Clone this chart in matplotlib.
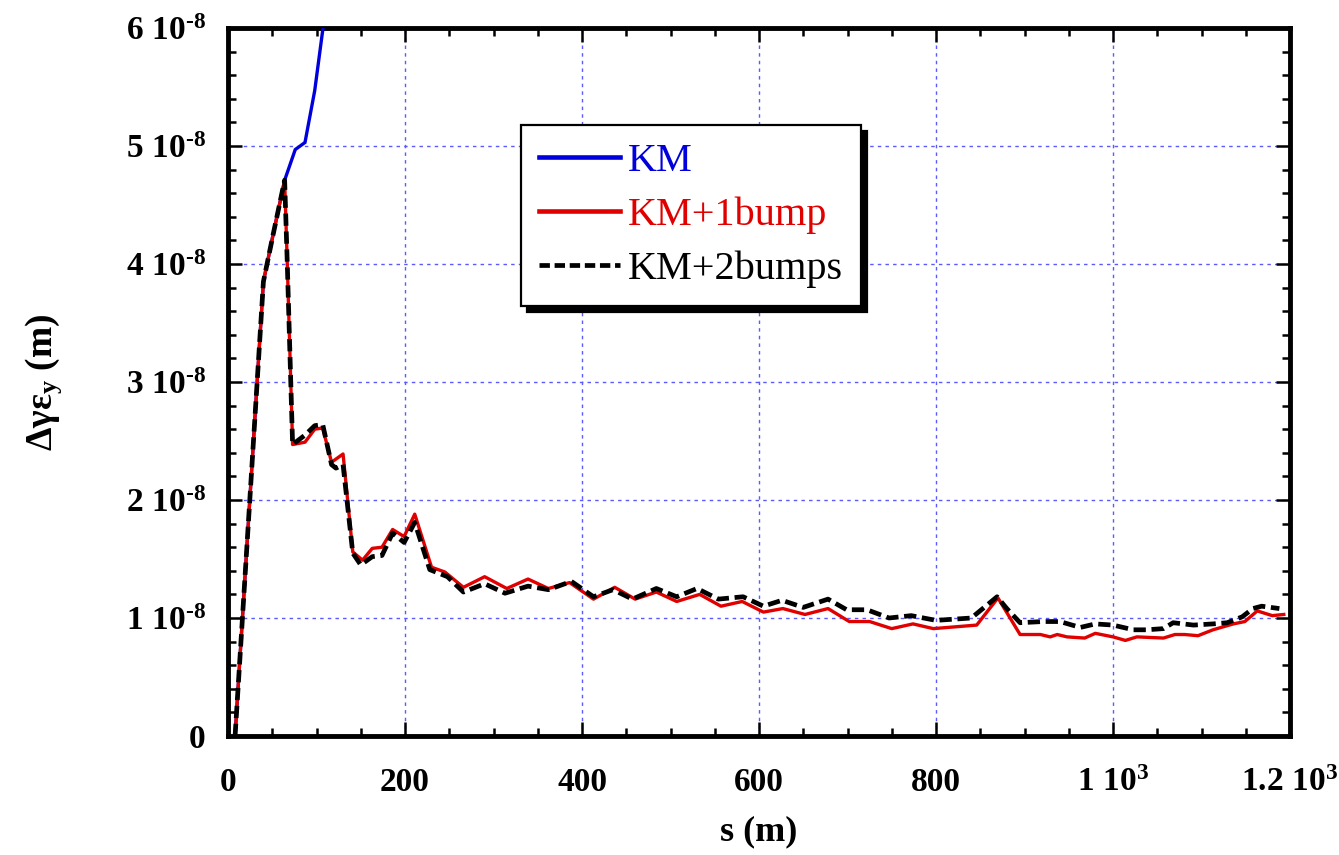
import matplotlib
matplotlib.use("Agg")
import matplotlib.pyplot as plt
from matplotlib.ticker import FixedLocator, FixedFormatter, MultipleLocator
from matplotlib.lines import Line2D

plt.rcParams['font.family'] = ['Liberation Serif', 'DejaVu Serif']
plt.rcParams['mathtext.fontset'] = 'custom'
plt.rcParams['mathtext.rm'] = 'Liberation Serif:bold'
plt.rcParams['mathtext.bf'] = 'Liberation Serif:bold'
plt.rcParams['mathtext.it'] = 'Liberation Serif:bold'

# ---------------- data (units: s in m, emittance growth in 1e-8 m) ----------------
s_km = [8, 40, 51, 64, 76, 87, 98, 107, 118]
km = [0, 3.85, 4.25, 4.71, 4.97, 5.03, 5.47, 5.98, 6.8]

s_1bump = [8, 40, 51, 64, 67, 73, 87, 98, 107, 117, 130, 141, 152, 163, 174, 186, 199, 211,
           230, 245, 266, 290, 315, 339, 362, 386, 413, 437, 460, 484, 507, 533, 557, 581,
           605, 627, 652, 678, 702, 725, 750, 774, 797, 846, 870, 895, 918, 929, 937, 948,
           968, 980, 1000, 1014, 1027, 1057, 1070, 1081, 1096, 1113, 1136, 1149, 1163, 1180, 1193]
km_1bump = [0, 3.85, 4.25, 4.71, 4.0, 2.47, 2.49, 2.60, 2.61, 2.32, 2.39, 1.56, 1.49, 1.59,
            1.60, 1.75, 1.69, 1.88, 1.43, 1.39, 1.26, 1.35, 1.25, 1.33, 1.25, 1.30, 1.16,
            1.26, 1.16, 1.22, 1.14, 1.20, 1.10, 1.14, 1.05, 1.08, 1.03, 1.08, 0.97, 0.97,
            0.91, 0.95, 0.91, 0.94, 1.17, 0.86, 0.86, 0.84, 0.86, 0.84, 0.83, 0.87, 0.84,
            0.81, 0.84, 0.83, 0.86, 0.86, 0.85, 0.90, 0.95, 0.97, 1.06, 1.02, 1.03]

s_2bumps = [8, 40, 51, 64, 67, 73, 87, 98, 107, 117, 122, 130, 141, 150, 163, 174, 186, 199,
            211, 228, 248, 266, 290, 313, 339, 362, 388, 413, 435, 457, 484, 507, 530, 554,
            582, 605, 626, 650, 678, 699, 722, 747, 772, 800, 840, 869, 880, 895, 921, 940,
            963, 980, 1000, 1023, 1038, 1057, 1068, 1091, 1113, 1129, 1146, 1158, 1168, 1188]
km_2bumps = [0, 3.85, 4.25, 4.71, 4.0, 2.47, 2.55, 2.63, 2.64, 2.30, 2.27, 2.30, 1.55, 1.45,
             1.52, 1.53, 1.72, 1.64, 1.81, 1.41, 1.35, 1.22, 1.29, 1.21, 1.27, 1.24, 1.31,
             1.18, 1.24, 1.16, 1.25, 1.18, 1.25, 1.16, 1.18, 1.10, 1.15, 1.09, 1.16, 1.07,
             1.07, 1.00, 1.02, 0.98, 1.00, 1.18, 1.08, 0.96, 0.97, 0.97, 0.92, 0.95, 0.94,
             0.90, 0.90, 0.91, 0.96, 0.94, 0.95, 0.96, 1.01, 1.08, 1.10, 1.08]

labels = ["KM", "KM+1bump", "KM+2bumps"]
x_ticks = [0, 200, 400, 600, 800, 1000, 1200]
x_ticklabels = ["0", "200", "400", "600", "800", r"$\mathbf{1\ 10^{3}}$", r"$\mathbf{1.2\ 10^{3}}$"]
y_ticks = [0, 1, 2, 3, 4, 5, 6]
y_ticklabels = ["0"] + [r"$\mathbf{%d\ 10^{\text{-}8}}$" % v for v in y_ticks[1:]]

# ---------------- figure ----------------
fig = plt.figure(figsize=(13.39, 8.55), dpi=100)
ax = fig.add_axes([228/1339, 1 - 736/855, (1290-228)/1339, (736-28)/855])

blue = "#0000dd"
red = "#e00000"
ax.plot(s_km, km, color=blue, lw=2.4, solid_joinstyle='miter', zorder=3)
ax.plot(s_1bump, km_1bump, color=red, lw=2.4, zorder=4)
ax.plot(s_2bumps, km_2bumps, color="black", lw=3.4, dashes=(2.6, 1.2), zorder=5)

ax.set_xlim(0, 1200)
ax.set_ylim(0, 6)

ax.xaxis.set_major_locator(FixedLocator(x_ticks))
ax.xaxis.set_major_formatter(FixedFormatter(x_ticklabels))
ax.xaxis.set_minor_locator(MultipleLocator(50))
ax.yaxis.set_major_locator(FixedLocator(y_ticks))
ax.yaxis.set_major_formatter(FixedFormatter(y_ticklabels))
ax.yaxis.set_minor_locator(MultipleLocator(0.2))

ax.tick_params(which='both', direction='in', top=True, right=True, width=1.8)
ax.tick_params(which='major', length=10)
ax.tick_params(which='minor', length=6)
ax.tick_params(axis='x', which='major', pad=22, labelsize=24)
ax.tick_params(axis='y', which='major', pad=16, labelsize=24)
for lab in ax.get_xticklabels() + ax.get_yticklabels():
    lab.set_fontweight('bold')

for sp in ax.spines.values():
    sp.set_linewidth(3.5)

ax.grid(True, which='major', color="#5a5aff", lw=1.0, linestyle=(0, (2.5, 3)))
ax.set_axisbelow(True)

ax.set_xlabel("s (m)", fontsize=26, fontweight='bold', labelpad=13)
ax.set_ylabel(r"$\mathbf{\Delta\gamma\varepsilon_{y}}$ (m)", fontsize=27, fontweight='bold', labelpad=44)

handles = [Line2D([], [], color=blue, lw=3.3),
           Line2D([], [], color=red, lw=3.3),
           Line2D([], [], color="black", lw=3.4, dashes=(2.2, 1.0))]
leg = ax.legend(handles, labels, loc='upper left', bbox_to_anchor=((521-228)/1062, (736-125)/708),
                borderaxespad=0, fontsize=29, handlelength=2.0, handletextpad=0.2,
                labelspacing=0.41, borderpad=0.45, fancybox=False, framealpha=1,
                edgecolor='black', labelcolor=[blue, red, 'black'],
                shadow={'ox': 4, 'oy': -4, 'color': 'black', 'alpha': 1})
leg.get_frame().set_linewidth(1.6)
leg.set_zorder(10)

fig.savefig("out.png", dpi=100)
